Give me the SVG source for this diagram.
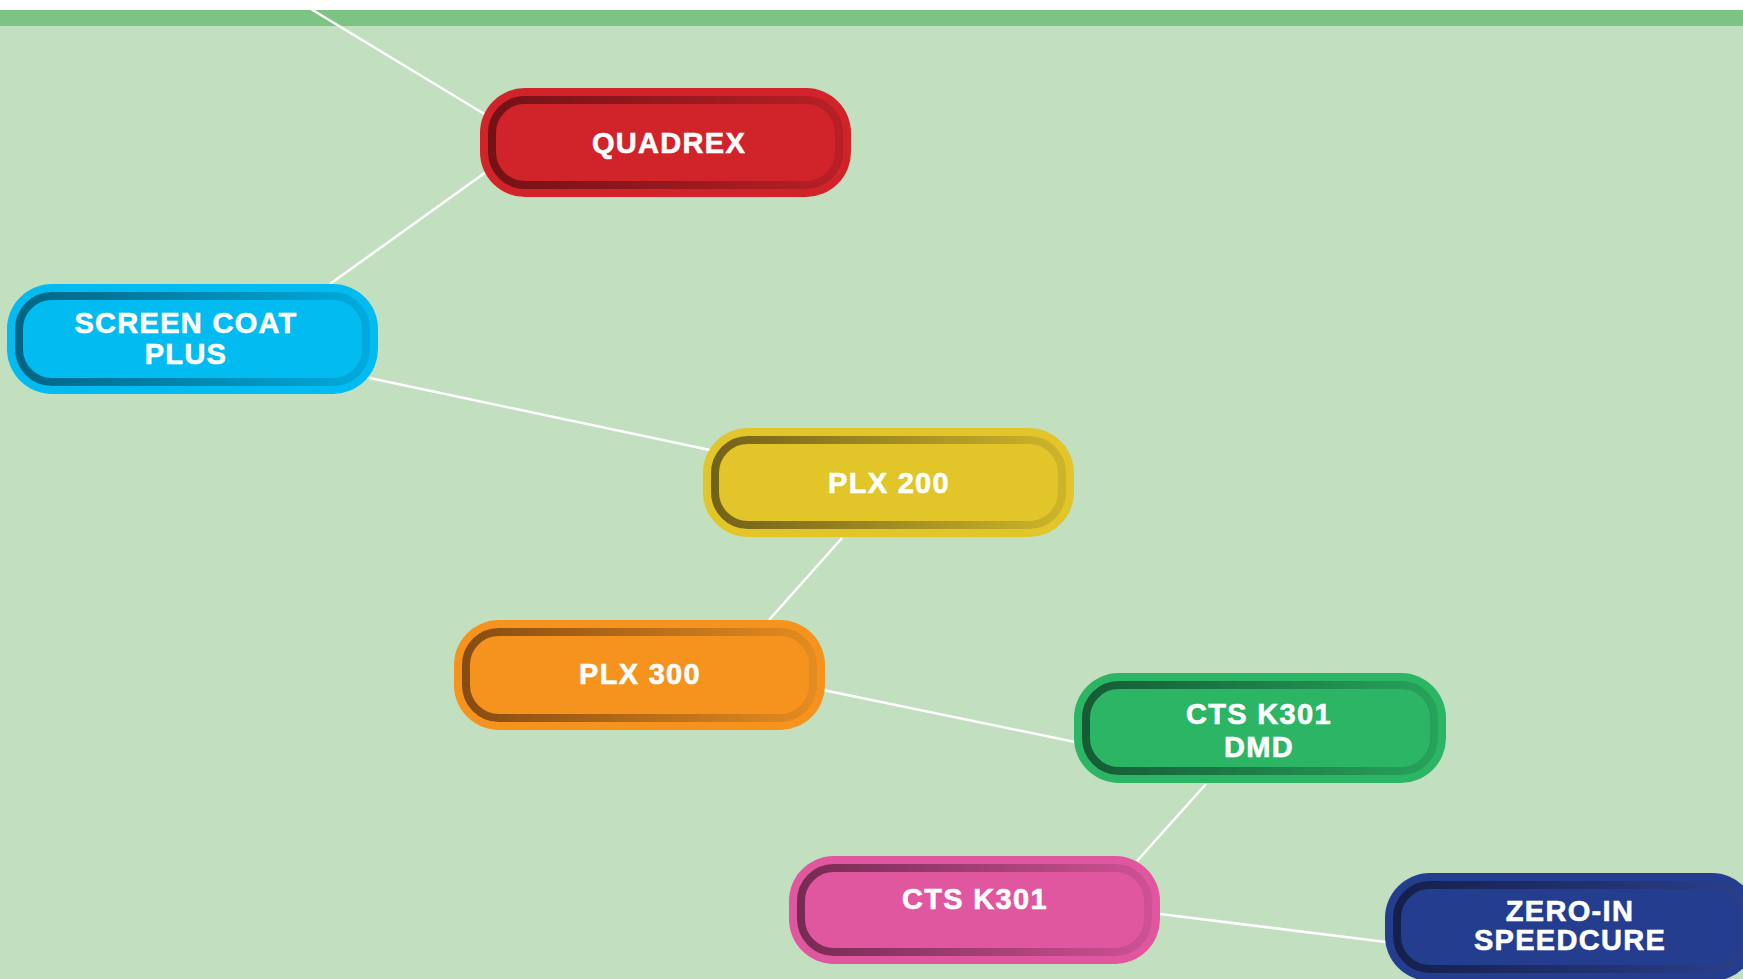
<svg xmlns="http://www.w3.org/2000/svg" width="1743" height="979" viewBox="0 0 1743 979">
<style>
.bg{fill:#c2dfc0}
.band{fill:#7dc383}
.conn line{stroke:#ffffff;stroke-width:2.5;fill:none}
.ring{fill:none;stroke-width:8}
.lbl{font-family:"Liberation Sans",Arial,Helvetica,sans-serif;font-weight:bold;font-size:29px;letter-spacing:1.3px;fill:#ffffff;stroke:#ffffff;stroke-width:0.6;text-anchor:middle}
</style>
<defs>
<linearGradient id="gRed" x1="0" y1="0" x2="1" y2="0"><stop offset="0" stop-color="#741216"/><stop offset="1" stop-color="#b81f26"/></linearGradient>
<linearGradient id="gBlue" x1="0" y1="0" x2="1" y2="0"><stop offset="0" stop-color="#006584"/><stop offset="1" stop-color="#00aadd"/></linearGradient>
<linearGradient id="gYel" x1="0" y1="0" x2="1" y2="0"><stop offset="0" stop-color="#73621a"/><stop offset="1" stop-color="#cdb42a"/></linearGradient>
<linearGradient id="gOra" x1="0" y1="0" x2="1" y2="0"><stop offset="0" stop-color="#874c12"/><stop offset="1" stop-color="#e48b20"/></linearGradient>
<linearGradient id="gGrn" x1="0" y1="0" x2="1" y2="0"><stop offset="0" stop-color="#155c36"/><stop offset="1" stop-color="#27a25b"/></linearGradient>
<linearGradient id="gPnk" x1="0" y1="0" x2="1" y2="0"><stop offset="0" stop-color="#772b54"/><stop offset="1" stop-color="#cd5193"/></linearGradient>
<linearGradient id="gNav" x1="0" y1="0" x2="1" y2="0"><stop offset="0" stop-color="#15204c"/><stop offset="1" stop-color="#2a3f8a"/></linearGradient>
</defs>
<rect x="0" y="0" width="1743" height="979" fill="#ffffff"/>
<rect class="bg" x="0" y="10" width="1743" height="969"/>
<rect class="band" x="0" y="10" width="1743" height="16"/>
<g id="connectors" class="conn">
<line x1="296" y1="0" x2="486" y2="115"/>
<line x1="486" y1="172" x2="330" y2="284"/>
<line x1="365" y1="377" x2="710" y2="450"/>
<line x1="842" y1="538" x2="769" y2="620"/>
<line x1="823" y1="690" x2="1075" y2="742"/>
<line x1="1206" y1="784" x2="1137" y2="861"/>
<line x1="1160" y1="914" x2="1386" y2="942"/>
</g>
<g id="quadrex">
<rect x="480" y="88" width="371" height="109" rx="45" fill="#d0232a"/>
<rect class="ring" x="492" y="100" width="347" height="85" rx="33" stroke="url(#gRed)"/>
<text class="lbl" x="669" y="153">QUADREX</text>
</g>
<g id="screen-coat-plus">
<rect x="7" y="284" width="371" height="110" rx="45" fill="#02bcf1"/>
<rect class="ring" x="19" y="296" width="347" height="86" rx="33" stroke="url(#gBlue)"/>
<text class="lbl" x="186" y="333">SCREEN COAT</text>
<text class="lbl" x="186" y="364">PLUS</text>
</g>
<g id="plx-200">
<rect x="703" y="428" width="371" height="109" rx="45" fill="#e1c529"/>
<rect class="ring" x="715" y="440" width="347" height="85" rx="33" stroke="url(#gYel)"/>
<text class="lbl" x="889" y="493">PLX 200</text>
</g>
<g id="plx-300">
<rect x="454" y="620" width="371" height="110" rx="45" fill="#f6921e"/>
<rect class="ring" x="466" y="632" width="347" height="86" rx="33" stroke="url(#gOra)"/>
<text class="lbl" x="640" y="684">PLX 300</text>
</g>
<g id="cts-k301-dmd">
<rect x="1074" y="673" width="372" height="110" rx="45" fill="#2bb564"/>
<rect class="ring" x="1086" y="685" width="348" height="86" rx="33" stroke="url(#gGrn)"/>
<text class="lbl" x="1259" y="724">CTS K301</text>
<text class="lbl" x="1259" y="757">DMD</text>
</g>
<g id="cts-k301">
<rect x="789" y="856" width="371" height="108" rx="45" fill="#e0569f"/>
<rect class="ring" x="801" y="868" width="347" height="84" rx="33" stroke="url(#gPnk)"/>
<text class="lbl" x="975" y="909">CTS K301</text>
</g>
<g id="zero-in-speedcure">
<rect x="1385" y="873" width="372" height="108" rx="45" fill="#253d8f"/>
<rect class="ring" x="1397" y="885" width="348" height="84" rx="33" stroke="url(#gNav)"/>
<text class="lbl" x="1570" y="921">ZERO-IN</text>
<text class="lbl" x="1570" y="950">SPEEDCURE</text>
</g>
</svg>
